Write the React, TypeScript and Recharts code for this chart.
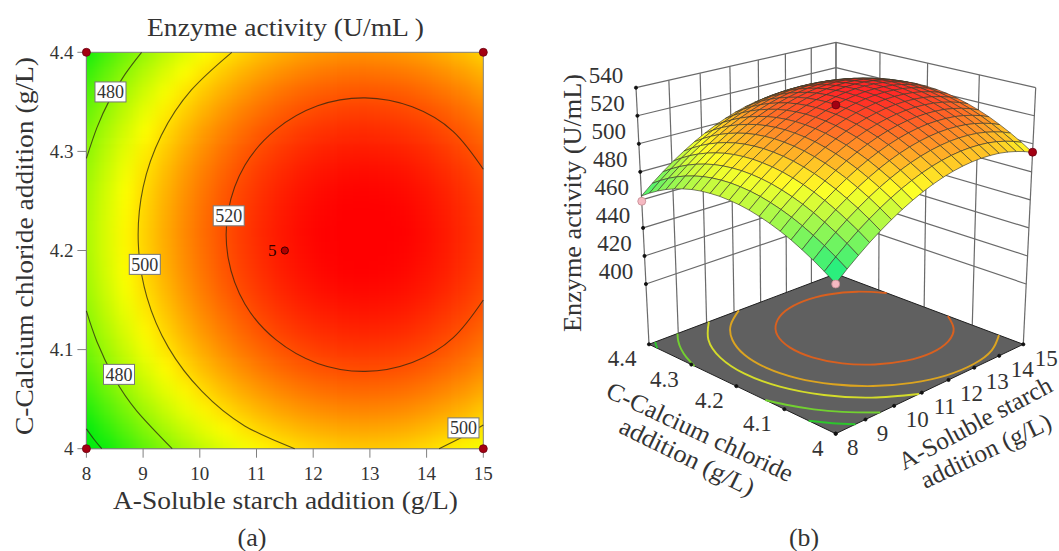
import { Scatter, ScatterChart, XAxis, YAxis } from 'recharts'

const WIDTH = 1059
const HEIGHT = 551
const SERIF = '"Liberation Serif", serif'
const INK = '#333333'

const starchTicks = [8, 9, 10, 11, 12, 13, 14, 15]
const chlorideTicks = [4, 4.1, 4.2, 4.3, 4.4]
const activityTicks = [400, 420, 440, 460, 480, 500, 520, 540]

// surface: one row per chloride step (4 -> 4.4), one column per starch step (8 -> 15)
const surfaceRows = [
  [454.8, 461.5, 467.6, 473.3, 478.4, 483.1, 487.3, 491.0, 494.2, 496.9, 499.1, 500.8, 502.0, 502.7, 502.9, 502.6, 501.9, 500.6, 498.8, 496.6, 493.8],
  [459.9, 466.6, 472.7, 478.4, 483.5, 488.2, 492.4, 496.1, 499.3, 502.0, 504.2, 505.9, 507.1, 507.8, 508.0, 507.7, 507.0, 505.7, 503.9, 501.7, 498.9],
  [464.5, 471.2, 477.3, 483.0, 488.1, 492.8, 497.0, 500.7, 503.9, 506.6, 508.8, 510.5, 511.7, 512.4, 512.6, 512.3, 511.6, 510.3, 508.5, 506.3, 503.5],
  [468.6, 475.3, 481.4, 487.1, 492.2, 496.9, 501.1, 504.8, 508.0, 510.7, 512.9, 514.6, 515.8, 516.5, 516.7, 516.4, 515.7, 514.4, 512.6, 510.4, 507.6],
  [472.3, 479.0, 485.1, 490.8, 495.9, 500.6, 504.8, 508.5, 511.7, 514.4, 516.6, 518.3, 519.5, 520.2, 520.4, 520.1, 519.4, 518.1, 516.3, 514.1, 511.3],
  [475.4, 482.1, 488.2, 493.9, 499.0, 503.7, 507.9, 511.6, 514.8, 517.5, 519.7, 521.4, 522.6, 523.3, 523.5, 523.2, 522.5, 521.2, 519.4, 517.2, 514.4],
  [478.0, 484.7, 490.8, 496.5, 501.6, 506.3, 510.5, 514.2, 517.4, 520.1, 522.3, 524.0, 525.2, 525.9, 526.1, 525.8, 525.1, 523.8, 522.0, 519.8, 517.0],
  [480.1, 486.8, 492.9, 498.6, 503.7, 508.4, 512.6, 516.3, 519.5, 522.2, 524.4, 526.1, 527.3, 528.0, 528.2, 527.9, 527.2, 525.9, 524.1, 521.9, 519.1],
  [481.8, 488.5, 494.6, 500.3, 505.4, 510.1, 514.3, 518.0, 521.2, 523.9, 526.1, 527.8, 529.0, 529.7, 529.9, 529.6, 528.9, 527.6, 525.8, 523.6, 520.8],
  [482.9, 489.6, 495.7, 501.4, 506.5, 511.2, 515.4, 519.1, 522.3, 525.0, 527.2, 528.9, 530.1, 530.8, 531.0, 530.7, 530.0, 528.7, 526.9, 524.7, 521.9],
  [483.5, 490.2, 496.3, 502.0, 507.1, 511.8, 516.0, 519.7, 522.9, 525.6, 527.8, 529.5, 530.7, 531.4, 531.6, 531.3, 530.6, 529.3, 527.5, 525.3, 522.5],
  [483.7, 490.4, 496.5, 502.2, 507.3, 512.0, 516.2, 519.9, 523.1, 525.8, 528.0, 529.7, 530.9, 531.6, 531.8, 531.5, 530.8, 529.5, 527.7, 525.5, 522.7],
  [483.3, 490.0, 496.1, 501.8, 506.9, 511.6, 515.8, 519.5, 522.7, 525.4, 527.6, 529.3, 530.5, 531.2, 531.4, 531.1, 530.4, 529.1, 527.3, 525.1, 522.3],
  [482.5, 489.2, 495.3, 501.0, 506.1, 510.8, 515.0, 518.7, 521.9, 524.6, 526.8, 528.5, 529.7, 530.4, 530.6, 530.3, 529.6, 528.3, 526.5, 524.3, 521.5],
  [481.2, 487.9, 494.0, 499.7, 504.8, 509.5, 513.7, 517.4, 520.6, 523.3, 525.5, 527.2, 528.4, 529.1, 529.3, 529.0, 528.3, 527.0, 525.2, 523.0, 520.2],
  [479.3, 486.0, 492.1, 497.8, 502.9, 507.6, 511.8, 515.5, 518.7, 521.4, 523.6, 525.3, 526.5, 527.2, 527.4, 527.1, 526.4, 525.1, 523.3, 521.1, 518.3],
  [477.0, 483.7, 489.8, 495.5, 500.6, 505.3, 509.5, 513.2, 516.4, 519.1, 521.3, 523.0, 524.2, 524.9, 525.1, 524.8, 524.1, 522.8, 521.0, 518.8, 516.0],
  [474.2, 480.9, 487.0, 492.7, 497.8, 502.5, 506.7, 510.4, 513.6, 516.3, 518.5, 520.2, 521.4, 522.1, 522.3, 522.0, 521.3, 520.0, 518.2, 516.0, 513.2],
  [470.9, 477.6, 483.7, 489.4, 494.5, 499.2, 503.4, 507.1, 510.3, 513.0, 515.2, 516.9, 518.1, 518.8, 519.0, 518.7, 518.0, 516.7, 514.9, 512.7, 509.9],
  [467.1, 473.8, 479.9, 485.6, 490.7, 495.4, 499.6, 503.3, 506.5, 509.2, 511.4, 513.1, 514.3, 515.0, 515.2, 514.9, 514.2, 512.9, 511.1, 508.9, 506.1],
  [462.8, 469.5, 475.6, 481.3, 486.4, 491.1, 495.3, 499.0, 502.2, 504.9, 507.1, 508.8, 510.0, 510.7, 510.9, 510.6, 509.9, 508.6, 506.8, 504.6, 501.8],
]

// contour lines as [starch, chloride], evenly spaced so the spline stays round
const contour520 = [[15, 4.282], [14.471, 4.32], [13.746, 4.345], [12.914, 4.354], [12.078, 4.346], [11.341, 4.322], [10.795, 4.286], [10.502, 4.24], [10.502, 4.192], [10.795, 4.146], [11.341, 4.11], [12.078, 4.086], [12.914, 4.078], [13.746, 4.087], [14.471, 4.112], [15, 4.15]]
const contour505 = [[11.18, 4.4], [10.375, 4.367], [9.755, 4.323], [9.366, 4.271], [9.238, 4.215], [9.38, 4.158], [9.781, 4.107], [10.412, 4.063], [11.227, 4.031], [12.163, 4.012], [13.153, 4.0085], [14.123, 4.02], [15, 4.047]]
const contour500 = [[10.565, 4.4], [9.852, 4.362], [9.32, 4.316], [9.001, 4.264], [8.915, 4.208], [9.067, 4.153], [9.448, 4.102], [10.035, 4.058], [10.792, 4.023], [11.674, 4]]
const contour500Corner = [[14.22, 4], [14.64, 4.012], [15, 4.024]]
const contour495 = [[10.08, 4.4], [9.305, 4.349], [8.803, 4.288], [8.613, 4.222], [8.75, 4.155], [9.203, 4.092], [9.937, 4.039], [10.896, 4]]
const contour480Upper = [[8.973, 4.4], [8.683, 4.378], [8.41, 4.352], [8.186, 4.324], [8, 4.293]]
const contour480Lower = [[8, 4.139], [8.186, 4.108], [8.495, 4.071], [8.89, 4.038], [9.513, 4]]
const contour467Upper = [[8.21, 4.4], [8.1, 4.39], [8, 4.38]]
const contour467Lower = [[8, 4.052], [8.315, 4.024], [8.66, 4]]
const contour460 = [[8, 4.02], [8.14, 4.009], [8.27, 4]]

const contourLabels = [
  { x: 8.425, y: 4.36, level: 480 },
  { x: 10.51, y: 4.235, level: 520 },
  { x: 9.03, y: 4.186, level: 500 },
  { x: 8.575, y: 4.075, level: 480 },
  { x: 14.65, y: 4.021, level: 500 },
]
const designCorners = [
  { x: 8, y: 4.4 },
  { x: 15, y: 4.4 },
  { x: 8, y: 4 },
  { x: 15, y: 4 },
]
const designCentre = [{ x: 11.5, y: 4.2, runs: 5 }]

// measured points for the 3D view: starch, chloride, activity
const pointsBelow = [[8, 4.4, 459], [8, 4, 454.6]]
const pointsAbove = [[11.5, 4.2, 527.7], [15, 4, 494]]

const FLOOR_Z = 357
const LEFT_PLOT = { left: 86.4, right: 483.3, top: 52.3, bottom: 448.7 }

type Corner = { x: number; y: number }
type Pt = { x: number; y: number }

// square to quad map, front / right / left / back corners of the box
function quadMap(p00: Corner, p10: Corner, p01: Corner, p11: Corner) {
  const dx1 = p10.x - p11.x
  const dx2 = p01.x - p11.x
  const sx = p00.x - p10.x + p11.x - p01.x
  const dy1 = p10.y - p11.y
  const dy2 = p01.y - p11.y
  const sy = p00.y - p10.y + p11.y - p01.y
  const den = dx1 * dy2 - dx2 * dy1
  const g = (sx * dy2 - dx2 * sy) / den
  const h = (dx1 * sy - sx * dy1) / den
  const a = p10.x - p00.x + g * p10.x
  const b = p01.x - p00.x + h * p01.x
  const d = p10.y - p00.y + g * p10.y
  const e = p01.y - p00.y + h * p01.y
  return (u: number, v: number) => {
    const q = g * u + h * v + 1
    return { x: (a * u + b * v + p00.x) / q, y: (d * u + e * v + p00.y) / q }
  }
}

const floorMap = quadMap({ x: 835.7, y: 433.7 }, { x: 1023.3, y: 344.3 }, { x: 649, y: 344.3 }, { x: 835.7, y: 273.8 })
const topMap = quadMap({ x: 835.7, y: 153 }, { x: 1035.7, y: 87.7 }, { x: 636, y: 87.7 }, { x: 836, y: 42.3 })

function project(a: number, c: number, z: number): Pt {
  const u = (a - 8) / 7
  const v = (c - 4) / 0.4
  const w = (z - FLOOR_Z) / (540 - FLOOR_Z)
  const f = floorMap(u, v)
  const t = topMap(u, v)
  return { x: f.x + (t.x - f.x) * w, y: f.y + (t.y - f.y) * w }
}

// green -> yellow -> red ramp
function heat(z: number): [number, number, number] {
  const t = Math.max(0, Math.min(1, (z - 460) / 71))
  if (t < 0.5) return [510 * t, 236 + 38 * t, 14 * (1 - 2 * t)]
  return [255, 510 * (1 - t), 0]
}
const rgb = (c: number[]) => `rgb(${c.map(v => Math.round(Math.min(255, v))).join(',')})`

function surfaceFill(i: number, j: number) {
  const z00 = surfaceRows[j][i]
  const z10 = surfaceRows[j][i + 1]
  const z01 = surfaceRows[j + 1][i]
  const z11 = surfaceRows[j + 1][i + 1]
  const mean = (z00 + z10 + z01 + z11) / 4
  const su = (((z10 + z11 - z00 - z01) / 2) * 20 * 0.75) / 183
  const sv = (((z01 + z11 - z00 - z10) / 2) * 20 * 0.75) / 183
  const shade = (0.6 * su + 0.6 * sv + 0.53) / Math.sqrt(su * su + sv * sv + 1)
  const bright = Math.min(1, 0.4 + 1.3 * shade)
  const white = 0.15 * Math.min(1, shade / 0.5)
  const [r, g, b] = heat(mean)
  const extraBlue = Math.max(0, 1 - (mean - 460) / 36) * 90
  return rgb([r, g, b + extraBlue].map(v => v * bright * (1 - white) + 255 * white))
}

const surfaceNodes: Pt[] = surfaceRows.flatMap((row, j) =>
  row.map((z, i) => project(8 + (i * 7) / 20, 4 + (j * 0.4) / 20, z)),
)
const heatNodes = surfaceRows.flatMap((row, j) =>
  row.map((z, i) => ({ x: 8 + (i * 7) / 20, y: 4 + (j * 0.4) / 20, z })),
)

const floorCorners = [project(8, 4, FLOOR_Z), project(15, 4, FLOOR_Z), project(15, 4.4, FLOOR_Z), project(8, 4.4, FLOOR_Z)]
const wallSegments: Pt[] = [
  ...starchTicks.flatMap(a => [project(a, 4.4, FLOOR_Z), project(a, 4.4, 540)]),
  ...chlorideTicks.flatMap(c => [project(15, c, FLOOR_Z), project(15, c, 540)]),
  ...activityTicks.flatMap(z => [project(8, 4.4, z), project(15, 4.4, z), project(15, 4.4, z), project(15, 4, z)]),
]
const tickDots: Pt[] = [
  ...starchTicks.map(a => project(a, 4, FLOOR_Z)),
  ...chlorideTicks.map(c => project(8, c, FLOOR_Z)),
  ...activityTicks.map(z => project(8, 4.4, z)),
]
const activityLabels = activityTicks.map(z => ({ ...project(8, 4.4, z), text: String(z), dx: -30, dy: -12.7 }))
const starchLabels = starchTicks.map(a => ({ ...project(a, 4, FLOOR_Z), text: String(a), dx: a < 10 ? 17 : 23, dy: 14 }))
const chlorideLabels = chlorideTicks.map(c => ({ ...project(8, c, FLOOR_Z), text: String(c), dx: c === 4 ? -18 : -27, dy: 14.5 }))

const floorContours = [
  { line: contour467Upper, color: '#2cc62c' },
  { line: contour467Lower, color: '#2cc62c' },
  { line: contour480Upper, color: '#72d030' },
  { line: contour480Lower, color: '#72d030' },
  { line: contour495, color: '#d4dc2a' },
  { line: contour505, color: '#dca420' },
  { line: contour520, color: '#d9601f' },
]
const planContours = [contour520, contour500, contour500Corner, contour480Upper, contour480Lower, contour460]

const toPlan = (line: number[][]) => line.map(([x, y]) => ({ x, y }))
const toFloor = (line: number[][]) => line.map(([a, c]) => project(a, c, FLOOR_Z))

const noMark = () => null

function HeatCells({ points }: { points?: Pt[] }) {
  if (!points) return null
  const xs = points.map(p => p.x)
  const ys = points.map(p => p.y)
  const x0 = Math.min(...xs)
  const x1 = Math.max(...xs)
  const y0 = Math.min(...ys)
  const y1 = Math.max(...ys)
  const w = (x1 - x0) / 20
  const h = (y1 - y0) / 20
  return (
    <g>
      <defs>
        <clipPath id="planClip">
          <rect x={x0} y={y0} width={x1 - x0} height={y1 - y0} />
        </clipPath>
        <filter id="planBlur" x="-10%" y="-10%" width="120%" height="120%" colorInterpolationFilters="sRGB">
          <feGaussianBlur stdDeviation={7.5} />
        </filter>
      </defs>
      <g clipPath="url(#planClip)">
        <g filter="url(#planBlur)">
          {points.map((p, n) => {
            const i = n % 21
            const j = Math.floor(n / 21)
            const padL = i === 0 ? 40 : 0
            const padR = i === 20 ? 40 : 0
            const padB = j === 0 ? 40 : 0
            const padT = j === 20 ? 40 : 0
            return (
              <rect
                key={n}
                x={p.x - w / 2 - padL - 0.3}
                y={p.y - h / 2 - padT - 0.3}
                width={w + padL + padR + 0.6}
                height={h + padT + padB + 0.6}
                fill={rgb(heat(heatNodes[n].z))}
              />
            )
          })}
        </g>
      </g>
      <rect x={x0} y={y0} width={x1 - x0} height={y1 - y0} fill="none" stroke="#808080" strokeWidth={1} />
    </g>
  )
}

function SurfaceQuads({ points }: { points?: Pt[] }) {
  if (!points) return null
  const quads = []
  // painter's order: the camera sits over the 8 g/L, 4 g/L corner
  for (let j = 19; j >= 0; j--) {
    for (let i = 19; i >= 0; i--) {
      const corners = [points[j * 21 + i], points[j * 21 + i + 1], points[(j + 1) * 21 + i + 1], points[(j + 1) * 21 + i]]
      quads.push(
        <polygon
          key={`${i}-${j}`}
          points={corners.map(p => `${p.x},${p.y}`).join(' ')}
          fill={surfaceFill(i, j)}
          stroke="#3c3a2c"
          strokeOpacity={0.72}
          strokeWidth={0.9}
          strokeLinejoin="round"
        />,
      )
    }
  }
  return <g>{quads}</g>
}

function FloorShape({ points }: { points?: Pt[] }) {
  if (!points) return null
  return <polygon points={points.map(p => `${p.x},${p.y}`).join(' ')} fill="#606060" stroke="#1f1f1f" strokeWidth={1} />
}

function WallLines({ points }: { points?: Pt[] }) {
  if (!points) return null
  const lines = []
  for (let n = 0; n + 1 < points.length; n += 2) {
    lines.push(<line key={n} x1={points[n].x} y1={points[n].y} x2={points[n + 1].x} y2={points[n + 1].y} stroke="#6a6a6a" strokeWidth={1.2} />)
  }
  return <g>{lines}</g>
}

const dot = (fill: string, stroke: string, r: number) => (p: any) => <circle cx={p.cx} cy={p.cy} r={r} fill={fill} stroke={stroke} strokeWidth={0.8} />

const offsetText = (fontSize: number) => (p: any) => (
  <text x={p.cx + p.payload.dx} y={p.cy + p.payload.dy} textAnchor="middle" dominantBaseline="central" fontFamily={SERIF} fontSize={fontSize} fill={INK}>
    {p.payload.text}
  </text>
)

const labelBox = (p: any) => (
  <g>
    <rect x={p.cx - 15.5} y={p.cy - 10} width={31} height={20} fill="#ffffff" stroke="#777777" strokeWidth={1} />
    <text x={p.cx} y={p.cy + 0.5} textAnchor="middle" dominantBaseline="central" fontFamily={SERIF} fontSize={18} fill={INK}>
      {p.payload.level}
    </text>
  </g>
)

const centreMark = (p: any) => (
  <g>
    <circle cx={p.cx} cy={p.cy} r={3.6} fill="#b00000" stroke="#3a0000" strokeWidth={1} />
    <text x={p.cx - 12.5} y={p.cy} textAnchor="middle" dominantBaseline="central" fontFamily={SERIF} fontSize={17} fill="#300000">
      {p.payload.runs}
    </text>
  </g>
)

function Caption({ x, y, width, text, size = 26, rotate = 0 }: { x: number; y: number; width: number; text: string; size?: number; rotate?: number }) {
  return (
    <text
      x={x}
      y={y}
      textAnchor="middle"
      dominantBaseline="central"
      fontFamily={SERIF}
      fontSize={size}
      fill={INK}
      textLength={width}
      lengthAdjust="spacingAndGlyphs"
      transform={rotate ? `rotate(${rotate} ${x} ${y})` : undefined}
    >
      {text}
    </text>
  )
}

const layer: React.CSSProperties = { position: 'absolute', left: 0, top: 0 }

export default function App() {
  return (
    <div style={{ position: 'absolute', left: 0, top: 0, width: WIDTH, height: HEIGHT, background: '#fff' }}>
      <div style={layer}>
        <ScatterChart
          width={WIDTH}
          height={HEIGHT}
          margin={{
            left: LEFT_PLOT.left - 60,
            right: WIDTH - LEFT_PLOT.right,
            top: LEFT_PLOT.top,
            bottom: HEIGHT - LEFT_PLOT.bottom - 40,
          }}
        >
          <XAxis
            type="number"
            dataKey="x"
            domain={[8, 15]}
            ticks={starchTicks}
            interval={0}
            height={40}
            tickSize={9}
            tickMargin={9}
            stroke="#808080"
            tick={{ fontSize: 19, fontFamily: SERIF, fill: INK }}
          />
          <YAxis
            type="number"
            dataKey="y"
            domain={[4, 4.4]}
            ticks={chlorideTicks}
            interval={0}
            width={60}
            tickSize={9}
            tickMargin={4}
            stroke="#808080"
            tick={{ fontSize: 19, fontFamily: SERIF, fill: INK }}
          />
          <Scatter data={heatNodes} shape={noMark} line={(p: any) => <HeatCells points={p.points} />} isAnimationActive={false} />
          {planContours.map((line, n) => (
            <Scatter
              key={n}
              data={toPlan(line)}
              shape={noMark}
              line={{ stroke: '#2a2410', strokeOpacity: 0.75, strokeWidth: 1.1 }}
              lineJointType="natural"
              isAnimationActive={false}
            />
          ))}
          <Scatter data={contourLabels} shape={labelBox} isAnimationActive={false} />
          <Scatter data={designCorners} shape={dot('#a30012', '#6a0010', 4)} isAnimationActive={false} />
          <Scatter data={designCentre} shape={centreMark} isAnimationActive={false} />
          <Caption x={285.5} y={27} width={277} text="Enzyme activity (U/mL )" />
          <Caption x={285.5} y={500} width={345} text="A-Soluble starch addition (g/L)" />
          <Caption x={24} y={246} width={378} text="C-Calcium chloride addition (g/L)" rotate={-90} />
          <Caption x={252} y={537} width={29} text="(a)" size={25} />
        </ScatterChart>
      </div>
      <div style={layer}>
        <ScatterChart width={WIDTH} height={HEIGHT} margin={{ left: 0, right: 0, top: 0, bottom: 0 }}>
          <XAxis type="number" dataKey="x" domain={[0, WIDTH]} hide />
          <YAxis type="number" dataKey="y" domain={[0, HEIGHT]} reversed hide />
          <Scatter data={wallSegments} shape={noMark} line={(p: any) => <WallLines points={p.points} />} isAnimationActive={false} />
          <Scatter data={floorCorners} shape={noMark} line={(p: any) => <FloorShape points={p.points} />} isAnimationActive={false} />
          {floorContours.map((c, n) => (
            <Scatter
              key={n}
              data={toFloor(c.line)}
              shape={noMark}
              line={{ stroke: c.color, strokeWidth: 1.9 }}
              lineJointType="natural"
              isAnimationActive={false}
            />
          ))}
          <Scatter data={tickDots} shape={dot('#111111', '#111111', 1.6)} isAnimationActive={false} />
          <Scatter data={surfaceNodes} shape={noMark} line={(p: any) => <SurfaceQuads points={p.points} />} isAnimationActive={false} />
          <Scatter data={pointsBelow.map(([a, c, z]) => project(a, c, z))} shape={dot('#f5b9c2', '#c48a92', 4)} isAnimationActive={false} />
          <Scatter data={pointsAbove.map(([a, c, z]) => project(a, c, z))} shape={dot('#a30012', '#6a0010', 4)} isAnimationActive={false} />
          <Scatter data={activityLabels} shape={offsetText(23)} isAnimationActive={false} />
          <Scatter data={starchLabels} shape={offsetText(23)} isAnimationActive={false} />
          <Scatter data={chlorideLabels} shape={offsetText(23)} isAnimationActive={false} />
          <Caption x={572} y={203} width={258} text="Enzyme activity (U/mL)" size={25} rotate={-90} />
          <Caption x={700} y={431.7} width={203} text="C-Calcium chloride" size={25} rotate={25} />
          <Caption x={687.3} y={456.7} width={147} text="addition (g/L)" size={25} rotate={26} />
          <Caption x={975} y={423} width={170} text="A-Soluble starch" size={25} rotate={-28} />
          <Caption x={985.7} y={450.7} width={142} text="addition (g/L)" size={25} rotate={-25.6} />
          <Caption x={804} y={537} width={30} text="(b)" size={25} />
        </ScatterChart>
      </div>
    </div>
  )
}
